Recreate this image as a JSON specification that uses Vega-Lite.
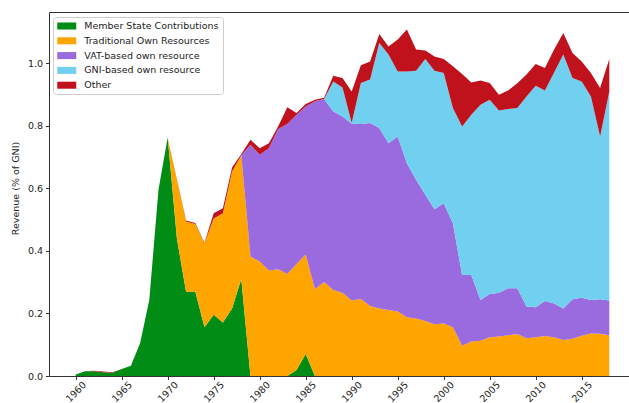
{
  "$schema": "https://vega.github.io/schema/vega-lite/v6.json",
  "width": 580,
  "height": 364,
  "autosize": {"type": "none"},
  "padding": {"left": 49, "top": 12, "right": 0, "bottom": 27},
  "background": "white",
  "config": {
    "font": "DejaVu Sans",
    "view": {"stroke": "#333333", "strokeWidth": 1},
    "axis": {"labelColor": "#222222", "tickColor": "#333333", "titleColor": "#222222", "labelFont": "DejaVu Sans", "titleFont": "DejaVu Sans"}
  },
  "datasets": {
    "ranks": [
      {"source": "Member State Contributions", "rank": 0},
      {"source": "Traditional Own Resources", "rank": 1},
      {"source": "VAT-based own resource", "rank": 2},
      {"source": "GNI-based own resource", "rank": 3},
      {"source": "Other", "rank": 4}
    ],
    "rev": [
      {"year":1960,"source":"Member State Contributions","value":0.005},{"year":1960,"source":"Traditional Own Resources","value":0},{"year":1960,"source":"VAT-based own resource","value":0},{"year":1960,"source":"GNI-based own resource","value":0},{"year":1960,"source":"Other","value":0},
      {"year":1961,"source":"Member State Contributions","value":0.015},{"year":1961,"source":"Traditional Own Resources","value":0},{"year":1961,"source":"VAT-based own resource","value":0},{"year":1961,"source":"GNI-based own resource","value":0},{"year":1961,"source":"Other","value":0},
      {"year":1962,"source":"Member State Contributions","value":0.015},{"year":1962,"source":"Traditional Own Resources","value":0},{"year":1962,"source":"VAT-based own resource","value":0},{"year":1962,"source":"GNI-based own resource","value":0},{"year":1962,"source":"Other","value":0.002},
      {"year":1963,"source":"Member State Contributions","value":0.012},{"year":1963,"source":"Traditional Own Resources","value":0},{"year":1963,"source":"VAT-based own resource","value":0},{"year":1963,"source":"GNI-based own resource","value":0},{"year":1963,"source":"Other","value":0.002},
      {"year":1964,"source":"Member State Contributions","value":0.010},{"year":1964,"source":"Traditional Own Resources","value":0},{"year":1964,"source":"VAT-based own resource","value":0},{"year":1964,"source":"GNI-based own resource","value":0},{"year":1964,"source":"Other","value":0.002},
      {"year":1965,"source":"Member State Contributions","value":0.022},{"year":1965,"source":"Traditional Own Resources","value":0},{"year":1965,"source":"VAT-based own resource","value":0},{"year":1965,"source":"GNI-based own resource","value":0},{"year":1965,"source":"Other","value":0},
      {"year":1966,"source":"Member State Contributions","value":0.033},{"year":1966,"source":"Traditional Own Resources","value":0},{"year":1966,"source":"VAT-based own resource","value":0},{"year":1966,"source":"GNI-based own resource","value":0},{"year":1966,"source":"Other","value":0},
      {"year":1967,"source":"Member State Contributions","value":0.105},{"year":1967,"source":"Traditional Own Resources","value":0},{"year":1967,"source":"VAT-based own resource","value":0},{"year":1967,"source":"GNI-based own resource","value":0},{"year":1967,"source":"Other","value":0},
      {"year":1968,"source":"Member State Contributions","value":0.243},{"year":1968,"source":"Traditional Own Resources","value":0},{"year":1968,"source":"VAT-based own resource","value":0},{"year":1968,"source":"GNI-based own resource","value":0},{"year":1968,"source":"Other","value":0},
      {"year":1969,"source":"Member State Contributions","value":0.595},{"year":1969,"source":"Traditional Own Resources","value":0},{"year":1969,"source":"VAT-based own resource","value":0},{"year":1969,"source":"GNI-based own resource","value":0},{"year":1969,"source":"Other","value":0},
      {"year":1970,"source":"Member State Contributions","value":0.762},{"year":1970,"source":"Traditional Own Resources","value":0},{"year":1970,"source":"VAT-based own resource","value":0},{"year":1970,"source":"GNI-based own resource","value":0},{"year":1970,"source":"Other","value":0},
      {"year":1971,"source":"Member State Contributions","value":0.440},{"year":1971,"source":"Traditional Own Resources","value":0.187},{"year":1971,"source":"VAT-based own resource","value":0},{"year":1971,"source":"GNI-based own resource","value":0},{"year":1971,"source":"Other","value":0.002},
      {"year":1972,"source":"Member State Contributions","value":0.268},{"year":1972,"source":"Traditional Own Resources","value":0.226},{"year":1972,"source":"VAT-based own resource","value":0},{"year":1972,"source":"GNI-based own resource","value":0},{"year":1972,"source":"Other","value":0.003},
      {"year":1973,"source":"Member State Contributions","value":0.270},{"year":1973,"source":"Traditional Own Resources","value":0.216},{"year":1973,"source":"VAT-based own resource","value":0},{"year":1973,"source":"GNI-based own resource","value":0},{"year":1973,"source":"Other","value":0.003},
      {"year":1974,"source":"Member State Contributions","value":0.156},{"year":1974,"source":"Traditional Own Resources","value":0.268},{"year":1974,"source":"VAT-based own resource","value":0},{"year":1974,"source":"GNI-based own resource","value":0},{"year":1974,"source":"Other","value":0.002},
      {"year":1975,"source":"Member State Contributions","value":0.196},{"year":1975,"source":"Traditional Own Resources","value":0.307},{"year":1975,"source":"VAT-based own resource","value":0},{"year":1975,"source":"GNI-based own resource","value":0},{"year":1975,"source":"Other","value":0.017},
      {"year":1976,"source":"Member State Contributions","value":0.171},{"year":1976,"source":"Traditional Own Resources","value":0.349},{"year":1976,"source":"VAT-based own resource","value":0},{"year":1976,"source":"GNI-based own resource","value":0},{"year":1976,"source":"Other","value":0.016},
      {"year":1977,"source":"Member State Contributions","value":0.216},{"year":1977,"source":"Traditional Own Resources","value":0.437},{"year":1977,"source":"VAT-based own resource","value":0},{"year":1977,"source":"GNI-based own resource","value":0},{"year":1977,"source":"Other","value":0.013},
      {"year":1978,"source":"Member State Contributions","value":0.310},{"year":1978,"source":"Traditional Own Resources","value":0.395},{"year":1978,"source":"VAT-based own resource","value":0},{"year":1978,"source":"GNI-based own resource","value":0},{"year":1978,"source":"Other","value":0.004},
      {"year":1979,"source":"Member State Contributions","value":0},{"year":1979,"source":"Traditional Own Resources","value":0.382},{"year":1979,"source":"VAT-based own resource","value":0.357},{"year":1979,"source":"GNI-based own resource","value":0},{"year":1979,"source":"Other","value":0.016},
      {"year":1980,"source":"Member State Contributions","value":0},{"year":1980,"source":"Traditional Own Resources","value":0.366},{"year":1980,"source":"VAT-based own resource","value":0.341},{"year":1980,"source":"GNI-based own resource","value":0},{"year":1980,"source":"Other","value":0.021},
      {"year":1981,"source":"Member State Contributions","value":0},{"year":1981,"source":"Traditional Own Resources","value":0.337},{"year":1981,"source":"VAT-based own resource","value":0.391},{"year":1981,"source":"GNI-based own resource","value":0},{"year":1981,"source":"Other","value":0.016},
      {"year":1982,"source":"Member State Contributions","value":0},{"year":1982,"source":"Traditional Own Resources","value":0.341},{"year":1982,"source":"VAT-based own resource","value":0.448},{"year":1982,"source":"GNI-based own resource","value":0},{"year":1982,"source":"Other","value":0.008},
      {"year":1983,"source":"Member State Contributions","value":0},{"year":1983,"source":"Traditional Own Resources","value":0.326},{"year":1983,"source":"VAT-based own resource","value":0.479},{"year":1983,"source":"GNI-based own resource","value":0},{"year":1983,"source":"Other","value":0.054},
      {"year":1984,"source":"Member State Contributions","value":0.019},{"year":1984,"source":"Traditional Own Resources","value":0.339},{"year":1984,"source":"VAT-based own resource","value":0.477},{"year":1984,"source":"GNI-based own resource","value":0},{"year":1984,"source":"Other","value":0.005},
      {"year":1985,"source":"Member State Contributions","value":0.070},{"year":1985,"source":"Traditional Own Resources","value":0.318},{"year":1985,"source":"VAT-based own resource","value":0.473},{"year":1985,"source":"GNI-based own resource","value":0},{"year":1985,"source":"Other","value":0.008},
      {"year":1986,"source":"Member State Contributions","value":0},{"year":1986,"source":"Traditional Own Resources","value":0.277},{"year":1986,"source":"VAT-based own resource","value":0.601},{"year":1986,"source":"GNI-based own resource","value":0},{"year":1986,"source":"Other","value":0.005},
      {"year":1987,"source":"Member State Contributions","value":0},{"year":1987,"source":"Traditional Own Resources","value":0.300},{"year":1987,"source":"VAT-based own resource","value":0.585},{"year":1987,"source":"GNI-based own resource","value":0},{"year":1987,"source":"Other","value":0.004},
      {"year":1988,"source":"Member State Contributions","value":0},{"year":1988,"source":"Traditional Own Resources","value":0.275},{"year":1988,"source":"VAT-based own resource","value":0.570},{"year":1988,"source":"GNI-based own resource","value":0.096},{"year":1988,"source":"Other","value":0.018},
      {"year":1989,"source":"Member State Contributions","value":0},{"year":1989,"source":"Traditional Own Resources","value":0.266},{"year":1989,"source":"VAT-based own resource","value":0.563},{"year":1989,"source":"GNI-based own resource","value":0.093},{"year":1989,"source":"Other","value":0.030},
      {"year":1990,"source":"Member State Contributions","value":0},{"year":1990,"source":"Traditional Own Resources","value":0.241},{"year":1990,"source":"VAT-based own resource","value":0.565},{"year":1990,"source":"GNI-based own resource","value":0.002},{"year":1990,"source":"Other","value":0.101},
      {"year":1991,"source":"Member State Contributions","value":0},{"year":1991,"source":"Traditional Own Resources","value":0.246},{"year":1991,"source":"VAT-based own resource","value":0.559},{"year":1991,"source":"GNI-based own resource","value":0.131},{"year":1991,"source":"Other","value":0.057},
      {"year":1992,"source":"Member State Contributions","value":0},{"year":1992,"source":"Traditional Own Resources","value":0.224},{"year":1992,"source":"VAT-based own resource","value":0.584},{"year":1992,"source":"GNI-based own resource","value":0.139},{"year":1992,"source":"Other","value":0.058},
      {"year":1993,"source":"Member State Contributions","value":0},{"year":1993,"source":"Traditional Own Resources","value":0.216},{"year":1993,"source":"VAT-based own resource","value":0.576},{"year":1993,"source":"GNI-based own resource","value":0.272},{"year":1993,"source":"Other","value":0.029},
      {"year":1994,"source":"Member State Contributions","value":0},{"year":1994,"source":"Traditional Own Resources","value":0.211},{"year":1994,"source":"VAT-based own resource","value":0.533},{"year":1994,"source":"GNI-based own resource","value":0.283},{"year":1994,"source":"Other","value":0.026},
      {"year":1995,"source":"Member State Contributions","value":0},{"year":1995,"source":"Traditional Own Resources","value":0.206},{"year":1995,"source":"VAT-based own resource","value":0.559},{"year":1995,"source":"GNI-based own resource","value":0.208},{"year":1995,"source":"Other","value":0.102},
      {"year":1996,"source":"Member State Contributions","value":0},{"year":1996,"source":"Traditional Own Resources","value":0.188},{"year":1996,"source":"VAT-based own resource","value":0.492},{"year":1996,"source":"GNI-based own resource","value":0.293},{"year":1996,"source":"Other","value":0.134},
      {"year":1997,"source":"Member State Contributions","value":0},{"year":1997,"source":"Traditional Own Resources","value":0.184},{"year":1997,"source":"VAT-based own resource","value":0.443},{"year":1997,"source":"GNI-based own resource","value":0.348},{"year":1997,"source":"Other","value":0.068},
      {"year":1998,"source":"Member State Contributions","value":0},{"year":1998,"source":"Traditional Own Resources","value":0.176},{"year":1998,"source":"VAT-based own resource","value":0.403},{"year":1998,"source":"GNI-based own resource","value":0.434},{"year":1998,"source":"Other","value":0.027},
      {"year":1999,"source":"Member State Contributions","value":0},{"year":1999,"source":"Traditional Own Resources","value":0.165},{"year":1999,"source":"VAT-based own resource","value":0.368},{"year":1999,"source":"GNI-based own resource","value":0.442},{"year":1999,"source":"Other","value":0.046},
      {"year":2000,"source":"Member State Contributions","value":0},{"year":2000,"source":"Traditional Own Resources","value":0.168},{"year":2000,"source":"VAT-based own resource","value":0.384},{"year":2000,"source":"GNI-based own resource","value":0.416},{"year":2000,"source":"Other","value":0.045},
      {"year":2001,"source":"Member State Contributions","value":0},{"year":2001,"source":"Traditional Own Resources","value":0.156},{"year":2001,"source":"VAT-based own resource","value":0.332},{"year":2001,"source":"GNI-based own resource","value":0.368},{"year":2001,"source":"Other","value":0.134},
      {"year":2002,"source":"Member State Contributions","value":0},{"year":2002,"source":"Traditional Own Resources","value":0.097},{"year":2002,"source":"VAT-based own resource","value":0.226},{"year":2002,"source":"GNI-based own resource","value":0.474},{"year":2002,"source":"Other","value":0.168},
      {"year":2003,"source":"Member State Contributions","value":0},{"year":2003,"source":"Traditional Own Resources","value":0.110},{"year":2003,"source":"VAT-based own resource","value":0.213},{"year":2003,"source":"GNI-based own resource","value":0.512},{"year":2003,"source":"Other","value":0.103},
      {"year":2004,"source":"Member State Contributions","value":0},{"year":2004,"source":"Traditional Own Resources","value":0.113},{"year":2004,"source":"VAT-based own resource","value":0.130},{"year":2004,"source":"GNI-based own resource","value":0.624},{"year":2004,"source":"Other","value":0.077},
      {"year":2005,"source":"Member State Contributions","value":0},{"year":2005,"source":"Traditional Own Resources","value":0.124},{"year":2005,"source":"VAT-based own resource","value":0.138},{"year":2005,"source":"GNI-based own resource","value":0.621},{"year":2005,"source":"Other","value":0.053},
      {"year":2006,"source":"Member State Contributions","value":0},{"year":2006,"source":"Traditional Own Resources","value":0.126},{"year":2006,"source":"VAT-based own resource","value":0.140},{"year":2006,"source":"GNI-based own resource","value":0.582},{"year":2006,"source":"Other","value":0.051},
      {"year":2007,"source":"Member State Contributions","value":0},{"year":2007,"source":"Traditional Own Resources","value":0.130},{"year":2007,"source":"VAT-based own resource","value":0.150},{"year":2007,"source":"GNI-based own resource","value":0.573},{"year":2007,"source":"Other","value":0.059},
      {"year":2008,"source":"Member State Contributions","value":0},{"year":2008,"source":"Traditional Own Resources","value":0.134},{"year":2008,"source":"VAT-based own resource","value":0.146},{"year":2008,"source":"GNI-based own resource","value":0.576},{"year":2008,"source":"Other","value":0.079},
      {"year":2009,"source":"Member State Contributions","value":0},{"year":2009,"source":"Traditional Own Resources","value":0.121},{"year":2009,"source":"VAT-based own resource","value":0.101},{"year":2009,"source":"GNI-based own resource","value":0.671},{"year":2009,"source":"Other","value":0.070},
      {"year":2010,"source":"Member State Contributions","value":0},{"year":2010,"source":"Traditional Own Resources","value":0.124},{"year":2010,"source":"VAT-based own resource","value":0.096},{"year":2010,"source":"GNI-based own resource","value":0.707},{"year":2010,"source":"Other","value":0.070},
      {"year":2011,"source":"Member State Contributions","value":0},{"year":2011,"source":"Traditional Own Resources","value":0.128},{"year":2011,"source":"VAT-based own resource","value":0.112},{"year":2011,"source":"GNI-based own resource","value":0.672},{"year":2011,"source":"Other","value":0.072},
      {"year":2012,"source":"Member State Contributions","value":0},{"year":2012,"source":"Traditional Own Resources","value":0.124},{"year":2012,"source":"VAT-based own resource","value":0.108},{"year":2012,"source":"GNI-based own resource","value":0.738},{"year":2012,"source":"Other","value":0.073},
      {"year":2013,"source":"Member State Contributions","value":0},{"year":2013,"source":"Traditional Own Resources","value":0.115},{"year":2013,"source":"VAT-based own resource","value":0.101},{"year":2013,"source":"GNI-based own resource","value":0.811},{"year":2013,"source":"Other","value":0.069},
      {"year":2014,"source":"Member State Contributions","value":0},{"year":2014,"source":"Traditional Own Resources","value":0.119},{"year":2014,"source":"VAT-based own resource","value":0.126},{"year":2014,"source":"GNI-based own resource","value":0.707},{"year":2014,"source":"Other","value":0.080},
      {"year":2015,"source":"Member State Contributions","value":0},{"year":2015,"source":"Traditional Own Resources","value":0.129},{"year":2015,"source":"VAT-based own resource","value":0.121},{"year":2015,"source":"GNI-based own resource","value":0.691},{"year":2015,"source":"Other","value":0.064},
      {"year":2016,"source":"Member State Contributions","value":0},{"year":2016,"source":"Traditional Own Resources","value":0.136},{"year":2016,"source":"VAT-based own resource","value":0.107},{"year":2016,"source":"GNI-based own resource","value":0.650},{"year":2016,"source":"Other","value":0.075},
      {"year":2017,"source":"Member State Contributions","value":0},{"year":2017,"source":"Traditional Own Resources","value":0.135},{"year":2017,"source":"VAT-based own resource","value":0.110},{"year":2017,"source":"GNI-based own resource","value":0.520},{"year":2017,"source":"Other","value":0.155},
      {"year":2018,"source":"Member State Contributions","value":0},{"year":2018,"source":"Traditional Own Resources","value":0.130},{"year":2018,"source":"VAT-based own resource","value":0.111},{"year":2018,"source":"GNI-based own resource","value":0.668},{"year":2018,"source":"Other","value":0.104}
    ]
  },
  "data": {"name": "rev"},
  "transform": [
    {"lookup": "source", "from": {"data": {"name": "ranks"}, "key": "source", "fields": ["rank"]}}
  ],
  "mark": {"type": "area", "interpolate": "linear", "opacity": 1},
  "encoding": {
    "x": {
      "field": "year",
      "type": "quantitative",
      "scale": {"domain": [1957.1, 2020.14], "nice": false, "zero": false},
      "axis": {
        "values": [1960, 1965, 1970, 1975, 1980, 1985, 1990, 1995, 2000, 2005, 2010, 2015],
        "format": "d",
        "labelAngle": -45,
        "labelAlign": "center",
        "labelBaseline": "middle",
        "labelFontSize": 9.5,
        "labelPadding": 12,
        "tickSize": 3.5,
        "domain": false,
        "grid": false,
        "title": null
      }
    },
    "y": {
      "field": "value",
      "type": "quantitative",
      "stack": "zero",
      "scale": {"domain": [0, 1.163], "nice": false, "zero": true},
      "axis": {
        "values": [0, 0.2, 0.4, 0.6, 0.8, 1.0],
        "format": ".1f",
        "labelFontSize": 9.5,
        "labelPadding": 3,
        "tickSize": 3.5,
        "domain": false,
        "grid": false,
        "title": "Revenue (% of GNI)",
        "titleFontSize": 9.5,
        "titleFontWeight": "normal",
        "titleAngle": -90,
        "titleX": -34,
        "titleY": 176,
        "titleAlign": "center",
        "titleBaseline": "middle"
      }
    },
    "order": {"field": "rank", "type": "quantitative", "sort": "ascending"},
    "color": {
      "field": "source",
      "type": "nominal",
      "sort": ["Member State Contributions", "Traditional Own Resources", "VAT-based own resource", "GNI-based own resource", "Other"],
      "scale": {
        "domain": ["Member State Contributions", "Traditional Own Resources", "VAT-based own resource", "GNI-based own resource", "Other"],
        "range": ["#008C15", "#FFA500", "#9A6ADF", "#71CFEF", "#C0121D"]
      },
      "legend": {
        "title": null,
        "orient": "none",
        "legendX": 4,
        "legendY": 5,
        "direction": "vertical",
        "symbolType": "M-2,-0.74H2V0.74H-2Z",
        "symbolSize": 90,
        "symbolOffset": 4.75,
        "symbolStrokeWidth": 0,
        "symbolOpacity": 1,
        "labelFontSize": 9.5,
        "labelColor": "#222222",
        "labelOffset": 12.5,
        "rowPadding": 4.8,
        "padding": 4,
        "fillColor": "white",
        "strokeColor": "#cccccc",
        "cornerRadius": 3
      }
    }
  }
}
